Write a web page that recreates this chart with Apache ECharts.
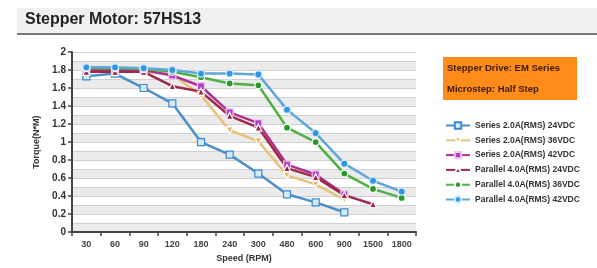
<!DOCTYPE html>
<html>
<head>
<meta charset="utf-8">
<script src="https://cdn.jsdelivr.net/npm/echarts@6/dist/echarts.min.js"></script>
<style>
  html, body { margin: 0; padding: 0; background: #fff; }
  #chart { width: 597px; height: 268px; }
</style>
</head>
<body>
<div id="chart"></div>
<script>
const speeds = ["30", "60", "90", "120", "180", "240", "300", "480", "600", "900", "1500", "1800"];
const yTicks = [0, 0.2, 0.4, 0.6, 0.8, 1, 1.2, 1.4, 1.6, 1.8, 2];

const seriesNames = [
  "Series 2.0A(RMS) 24VDC",
  "Series 2.0A(RMS) 36VDC",
  "Series 2.0A(RMS) 42VDC",
  "Parallel 4.0A(RMS) 24VDC",
  "Parallel 4.0A(RMS) 36VDC",
  "Parallel 4.0A(RMS) 42VDC",
];

const s24 = [1.73, 1.76, 1.6, 1.43, 1.0, 0.86, 0.65, 0.42, 0.33, 0.22, null, null];
const s36 = [1.78, 1.78, 1.78, 1.75, 1.52, 1.13, 1.01, 0.63, 0.53, 0.36, null, null];
const s42 = [1.8, 1.8, 1.8, 1.74, 1.62, 1.33, 1.21, 0.75, 0.64, 0.42, null, null];
const p24 = [1.78, 1.78, 1.78, 1.62, 1.56, 1.29, 1.16, 0.71, 0.61, 0.41, 0.31, null];
const p36 = [1.82, 1.82, 1.81, 1.78, 1.72, 1.65, 1.63, 1.16, 1.0, 0.65, 0.48, 0.38];
const p42 = [1.83, 1.83, 1.82, 1.8, 1.76, 1.76, 1.75, 1.36, 1.1, 0.76, 0.57, 0.45];

const chart = echarts.init(document.getElementById("chart"));
const font = "Liberation Sans, Arial, sans-serif";

function line(name, data, color, symbol, symColor, symBorder) {
  return {
    name: name,
    type: "line",
    data: data,
    symbol: symbol,
    symbolSize: 7,
    lineStyle: { color: color, width: 2.5 },
    itemStyle: { color: symColor, borderColor: symBorder, borderWidth: 1.2 },
    emphasis: { disabled: true },
  };
}

const option = {
  animation: false,
  textStyle: { fontFamily: font },
  graphic: [
    { type: "rect", shape: { x: 17, y: 8, width: 580, height: 26 }, style: { fill: "#f0f0f0" } },
    { type: "rect", shape: { x: 17, y: 33, width: 580, height: 2 }, style: { fill: "#777" } },
    {
      type: "text", left: 25, top: 12,
      style: { text: "Stepper Motor: 57HS13", font: "bold 16px " + font, fill: "#222" },
    },
    { type: "rect", shape: { x: 443, y: 57, width: 134, height: 43 }, style: { fill: "#ff8c1a" } },
    {
      type: "text", left: 447, top: 63,
      style: { text: "Stepper Drive: EM Series", font: "bold 9.5px " + font, fill: "#3a1a00" },
    },
    {
      type: "text", left: 447, top: 84,
      style: { text: "Microstep: Half Step", font: "bold 9.5px " + font, fill: "#3a1a00" },
    },
  ],
  legend: {
    orient: "vertical",
    left: 440,
    top: 116,
    itemWidth: 24,
    itemHeight: 8,
    itemGap: 5.8,
    textStyle: { fontSize: 8.5, fontWeight: "bold", color: "#333", fontFamily: font },
    data: seriesNames,
  },
  grid: { left: 72, right: 181, top: 52, bottom: 32 },
  xAxis: {
    type: "category",
    data: speeds,
    name: "Speed (RPM)",
    nameLocation: "middle",
    nameGap: 19,
    nameTextStyle: { fontSize: 9, fontWeight: "bold", color: "#333" },
    axisLine: { lineStyle: { color: "#444", width: 2 } },
    axisTick: { show: true, length: 4, lineStyle: { color: "#444", width: 1.5 } },
    axisLabel: { interval: 0, fontSize: 9, fontWeight: "bold", color: "#444", margin: 8 },
  },
  yAxis: [
    {
      type: "value",
      min: 0,
      max: 2,
      interval: 0.2,
      name: "Torque(N*M)",
      nameLocation: "middle",
      nameGap: 30,
      nameTextStyle: { fontSize: 9, fontWeight: "bold", color: "#333" },
      axisLine: { show: true, lineStyle: { color: "#444", width: 2 } },
      axisTick: { show: true, length: 4, lineStyle: { color: "#444", width: 1.5 } },
      axisLabel: {
        fontSize: 10, fontWeight: "bold", color: "#333", margin: 6,
        formatter: function (v) {
          return yTicks.indexOf(Math.round(v * 10) / 10) >= 0 ? String(Math.round(v * 10) / 10) : "";
        },
      },
      splitLine: { show: false },
      z: 3,
    },
    {
      type: "value",
      position: "left",
      min: 0,
      max: 2,
      interval: 0.1,
      axisLine: { show: false },
      axisTick: { show: false },
      axisLabel: { show: false },
      splitLine: { show: true, lineStyle: { color: "#d0d0d0", width: 1 } },
      splitArea: { show: true, areaStyle: { color: ["#ebebeb", "#ffffff"] } },
    },
  ],
  series: [
    line(seriesNames[0], s24, "#4a8fc8", "rect", "#d6ebfa", "#3a8ad6"),
    line(seriesNames[1], s36, "#e8c27c", "path://M0,0 L10,0 L5,9 Z", "#e8b860", "#fff"),
    line(seriesNames[2], s42, "#b0308f", "rect", "#b040c8", "#f0c8f0"),
    line(seriesNames[3], p24, "#9c2a48", "triangle", "#a02040", "#fff"),
    line(seriesNames[4], p36, "#4cb043", "circle", "#2a9a2a", "#fff"),
    line(seriesNames[5], p42, "#5fa6dc", "circle", "#2f96e6", "#cfe8fa"),
  ],
};

chart.setOption(option);
</script>
</body>
</html>
